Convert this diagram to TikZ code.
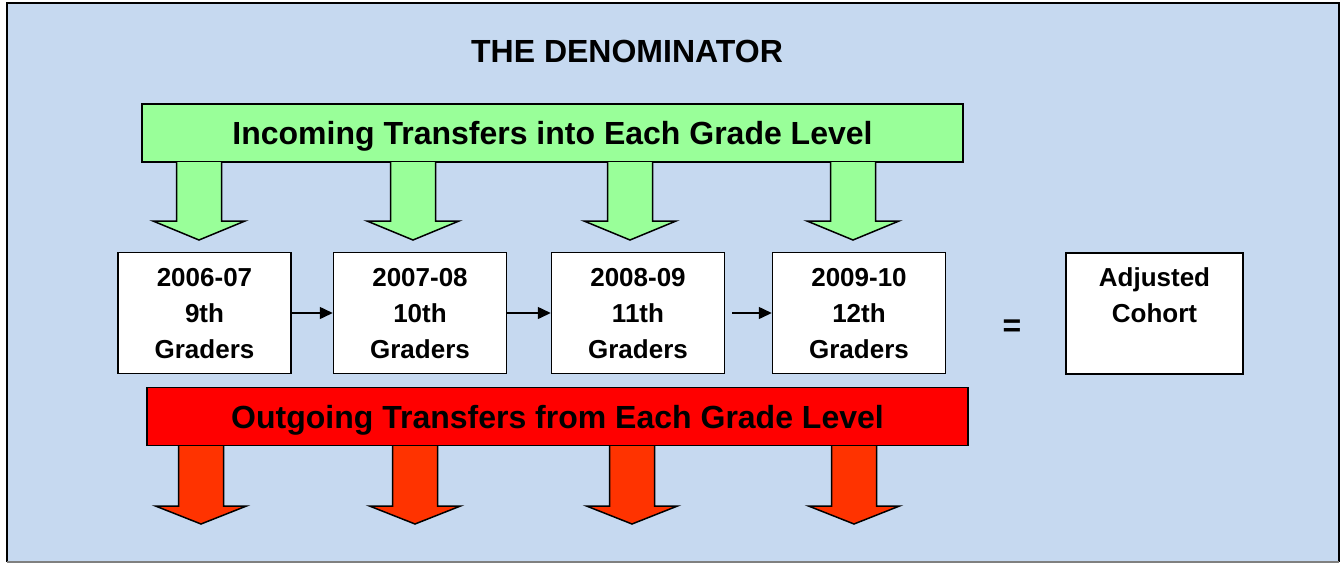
\documentclass[tikz,border=0pt]{standalone}
\usepackage{fontspec}
\setmainfont{Liberation Sans}
\usepackage{tikz}
\definecolor{bg}{RGB}{198, 217, 240}
\definecolor{inc}{RGB}{153, 255, 153}
\definecolor{outg}{RGB}{255, 0, 0}
\definecolor{outarr}{RGB}{255, 51, 0}
\usetikzlibrary{arrows.meta}
\tikzset{
  banner/.style={draw=black, line width=1.5pt, minimum width=821pt, minimum height=58pt, inner sep=0pt, text depth=0pt, font=\fontsize{32}{36}\selectfont\bfseries},
  gradebox/.style={draw=black, fill=white, line width=1.5pt, minimum width=173pt, minimum height=121pt, inner sep=0pt, text depth=-5pt, align=center, font=\fontsize{26}{36}\selectfont\bfseries},
  blockarrow/.style={draw=black, line width=1.5pt, line join=miter},
  flow/.style={-{Triangle[length=13pt,width=12pt]}, line width=1.5pt}
}
\begin{document}
\begin{tikzpicture}
\useasboundingbox (0pt, 0pt) rectangle (1341pt, -563pt);
\fill [bg] (7pt, -3pt) rectangle (1339pt, -563pt);
\draw [line width=2.5pt, color=black] (7pt, -562pt) -- (7pt, -3pt) -- (1339pt, -3pt) -- (1339pt, -562pt);
\draw [line width=1.5pt, color=gray] (7pt, -562pt) -- (1339pt, -562pt);
\node (title) [font=\fontsize{32}{36}\selectfont\bfseries] at (627pt, -51.5pt) {THE DENOMINATOR};
\node (incoming) [banner, fill=inc] at (552.5pt, -133pt) {Incoming Transfers into Each Grade Level};
\node (outgoing) [banner, fill=outg] at (557.5pt, -416.5pt) {Outgoing Transfers from Each Grade Level};
\foreach \x in {199, 413, 630, 853}
  \draw [blockarrow, fill=inc] ({\x pt-22.5pt}, -162pt) -- ({\x pt-22.5pt}, -221pt) -- ({\x pt-46pt}, -221pt) -- (\x pt, -240pt) -- ({\x pt+46pt}, -221pt) -- ({\x pt+22.5pt}, -221pt) -- ({\x pt+22.5pt}, -162pt);
\foreach \x in {201, 415, 632, 854}
  \draw [blockarrow, fill=outarr] ({\x pt-22.5pt}, -446pt) -- ({\x pt-22.5pt}, -506pt) -- ({\x pt-45.5pt}, -506pt) -- (\x pt, -524pt) -- ({\x pt+45.5pt}, -506pt) -- ({\x pt+22.5pt}, -506pt) -- ({\x pt+22.5pt}, -446pt);
\node (g9) [gradebox] at (204.5pt, -313pt) {2006-07\\9th\\Graders};
\node (g10) [gradebox] at (420pt, -313pt) {2007-08\\10th\\Graders};
\node (g11) [gradebox] at (638pt, -313pt) {2008-09\\11th\\Graders};
\node (g12) [gradebox] at (859pt, -313pt) {2009-10\\12th\\Graders};
\node (equals) [font=\fontsize{32}{36}\selectfont\bfseries] at (1012pt, -328pt) {=};
\node (cohort) [gradebox, minimum width=177pt] at (1154.5pt, -313.5pt) {Adjusted\\Cohort\\~};
\draw [flow] (g9) -- (g10);
\draw [flow] (g10) -- (g11);
\draw [flow, shorten <=7pt] (g11) -- (g12);
\end{tikzpicture}
\end{document}
